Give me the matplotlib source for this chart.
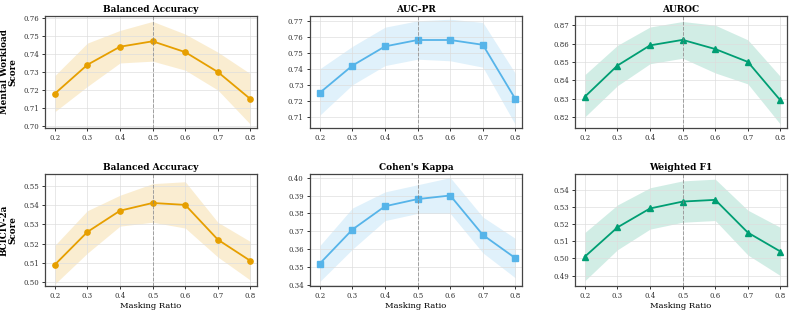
import numpy as np
import matplotlib.pyplot as plt

plt.rcParams['font.family'] = 'DejaVu Serif'

ratios = [0.2, 0.3, 0.4, 0.5, 0.6, 0.7, 0.8]

# mental workload
mw_ba = [0.718, 0.734, 0.744, 0.747, 0.741, 0.730, 0.715]
mw_ba_lo = [0.708, 0.722, 0.735, 0.736, 0.731, 0.720, 0.701]
mw_ba_hi = [0.728, 0.746, 0.753, 0.758, 0.751, 0.741, 0.729]

mw_aucpr = [0.725, 0.742, 0.754, 0.758, 0.758, 0.755, 0.721]
mw_aucpr_lo = [0.711, 0.730, 0.742, 0.746, 0.745, 0.741, 0.705]
mw_aucpr_hi = [0.740, 0.754, 0.766, 0.770, 0.771, 0.769, 0.737]

mw_auroc = [0.831, 0.848, 0.859, 0.862, 0.857, 0.850, 0.829]
mw_auroc_lo = [0.820, 0.837, 0.849, 0.852, 0.844, 0.838, 0.816]
mw_auroc_hi = [0.843, 0.859, 0.869, 0.872, 0.870, 0.862, 0.842]

# BCIC IV-2a
bci_ba = [0.509, 0.526, 0.537, 0.541, 0.540, 0.522, 0.511]
bci_ba_lo = [0.499, 0.515, 0.529, 0.531, 0.528, 0.513, 0.501]
bci_ba_hi = [0.519, 0.537, 0.545, 0.551, 0.552, 0.531, 0.521]

bci_kappa = [0.352, 0.371, 0.384, 0.388, 0.390, 0.368, 0.355]
bci_kappa_lo = [0.342, 0.360, 0.376, 0.380, 0.380, 0.358, 0.344]
bci_kappa_hi = [0.362, 0.383, 0.392, 0.396, 0.400, 0.378, 0.366]

bci_f1 = [0.501, 0.518, 0.529, 0.533, 0.534, 0.515, 0.504]
bci_f1_lo = [0.487, 0.505, 0.517, 0.521, 0.522, 0.502, 0.490]
bci_f1_hi = [0.515, 0.531, 0.541, 0.545, 0.546, 0.528, 0.518]

titles = [['Balanced Accuracy', 'AUC-PR', 'AUROC'],
          ['Balanced Accuracy', "Cohen's Kappa", 'Weighted F1']]
rows = [[(mw_ba, mw_ba_lo, mw_ba_hi), (mw_aucpr, mw_aucpr_lo, mw_aucpr_hi), (mw_auroc, mw_auroc_lo, mw_auroc_hi)],
        [(bci_ba, bci_ba_lo, bci_ba_hi), (bci_kappa, bci_kappa_lo, bci_kappa_hi), (bci_f1, bci_f1_lo, bci_f1_hi)]]
ylims = [[(0.699, 0.761), (0.703, 0.773), (0.814, 0.875)],
         [(0.498, 0.556), (0.3395, 0.402), (0.484, 0.549)]]
yticks = [[np.arange(0.70, 0.7601, 0.01), np.arange(0.71, 0.7701, 0.01), np.arange(0.82, 0.8701, 0.01)],
          [np.arange(0.50, 0.5501, 0.01), np.arange(0.34, 0.4001, 0.01), np.arange(0.49, 0.5401, 0.01)]]
row_labels = ['Mental Workload\nScore', 'BCICIV-2a\nScore']
colors = ['#E69F00', '#56B4E9', '#009E73']
markers = ['o', 's', '^']

fig = plt.figure(figsize=(7.93, 3.14), dpi=100)
lefts = [45, 310, 575]
width = 212
tops = [16, 174]
height = 112
W, H = 793, 314

for r in range(2):
    for c in range(3):
        ax = fig.add_axes([lefts[c] / W, 1 - (tops[r] + height) / H, width / W, height / H])
        y, lo, hi = rows[r][c]
        ax.fill_between(ratios, lo, hi, color=colors[c], alpha=0.18, linewidth=0)
        ax.plot(ratios, y, color=colors[c], marker=markers[c], markersize=3.8, linewidth=1.3)
        ax.axvline(0.5, color='gray', linestyle='--', linewidth=0.7, alpha=0.7)
        ax.set_xlim(0.17, 0.82)
        ax.set_ylim(*ylims[r][c])
        ax.set_xticks(ratios)
        ax.set_yticks(yticks[r][c])
        ax.set_yticklabels(['%.2f' % v for v in yticks[r][c]])
        ax.tick_params(labelsize=5, length=2.5, width=0.7, colors='#333333', pad=2)
        ax.grid(True, color='#dddddd', linewidth=0.6, alpha=0.8)
        for s in ax.spines.values():
            s.set_color('#444444')
            s.set_linewidth(0.9)
        ax.set_title(titles[r][c], fontsize=6.5, fontweight='bold', pad=3)
        if c == 0:
            ax.set_ylabel(row_labels[r], fontsize=6.3, fontweight='bold', labelpad=4, linespacing=0.95)
        if r == 1:
            ax.set_xlabel('Masking Ratio', fontsize=6, labelpad=1.5)

fig.savefig('out.png', dpi=100)
